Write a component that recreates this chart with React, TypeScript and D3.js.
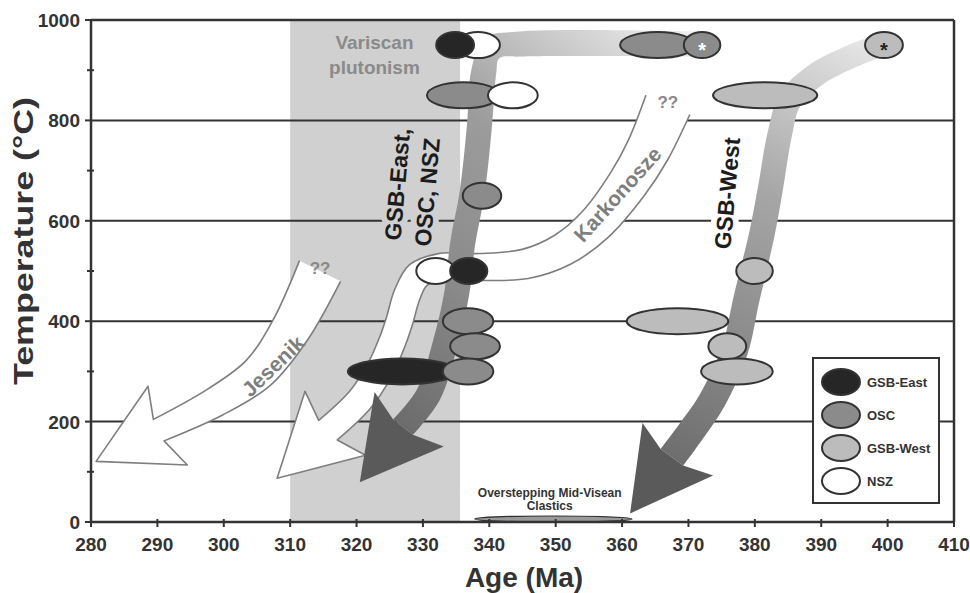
import React from 'react';
import * as d3 from 'd3';

type Pt = [number, number];

// ---- data: age in Ma, temperature in °C ----
const ageTicks = d3.range(280, 411, 10);
const tempTicks = [0, 200, 400, 600, 800, 1000];
const tempMinorTicks = [100, 300, 500, 700, 900];
const gridTemps = [200, 400, 600, 800];
const plutonismAges: Pt = [310, 335.6];
const clasticsAges: Pt = [337.8, 361.5];

const groups = ['GSB-East', 'OSC', 'GSB-West', 'NSZ'];
const groupColors = ['#262626', '#8b8b8b', '#bcbcbc', '#ffffff'];

// group, min age, max age, temperature, asterisk  (listed in drawing order)
const samples: [string, number, number, number, boolean][] = [
  ['NSZ', 335.0, 341.6, 950, false],
  ['NSZ', 329.0, 334.8, 500, false],
  ['GSB-East', 332.0, 337.7, 950, false],
  ['GSB-East', 334.1, 339.7, 500, false],
  ['GSB-East', 318.7, 335.1, 300, false],
  ['OSC', 359.7, 371.0, 950, false],
  ['OSC', 369.3, 374.8, 950, true],
  ['OSC', 330.6, 341.6, 850, false],
  ['OSC', 336.0, 341.8, 650, false],
  ['OSC', 333.0, 340.6, 400, false],
  ['OSC', 334.1, 341.6, 350, false],
  ['OSC', 333.0, 340.6, 300, false],
  ['GSB-West', 396.6, 402.3, 950, true],
  ['GSB-West', 373.7, 389.4, 850, false],
  ['GSB-West', 377.2, 382.7, 500, false],
  ['GSB-West', 360.7, 376.0, 400, false],
  ['GSB-West', 373.0, 378.7, 350, false],
  ['GSB-West', 371.9, 382.7, 300, false],
  ['NSZ', 339.8, 347.3, 850, false],
];

// P-T-t paths (age, temperature)
const pathEast: Pt[] = [
  [371.7, 952], [344.6, 952], [340.4, 944], [339.2, 900], [338.5, 787], [337.4, 655],
  [336.0, 556], [335.1, 456], [333.3, 353], [330.8, 253], [327.0, 189],
];
const pathWest: Pt[] = [
  [399.5, 952], [394.3, 926], [389.1, 890], [385.3, 841], [383.8, 775], [382.3, 661],
  [381.1, 576], [378.7, 442], [377.0, 343], [373.6, 243], [370.2, 177], [367.5, 129],
];
const pathKarkonosze: Pt[] = [
  [366.9, 831], [363.9, 741], [360.9, 675], [355.9, 592], [351.0, 542], [345.4, 514],
  [338.6, 508], [332.6, 508], [329.3, 492], [327.6, 452], [326.5, 402], [325.5, 363],
  [323.5, 303], [320.5, 243], [315.7, 183],
];
const pathJesenik: Pt[] = [
  [314.5, 500], [310.0, 382], [305.2, 297], [298.7, 239], [290.2, 183],
];

const FONT = '"Liberation Sans", Arial, Helvetica, sans-serif';
const AXIS = '#333';

function buildArrow(pts: Pt[], w0: number, w1: number, taper: number) {
  const head = { len: 70, half: 44, back: 10 };
  const n = pts.length;
  const cum = [0];
  for (let i = 1; i < n; i++) cum.push(cum[i - 1] + Math.hypot(pts[i][0] - pts[i - 1][0], pts[i][1] - pts[i - 1][1]));
  const total = cum[n - 1];
  const left: Pt[] = [], right: Pt[] = [];
  pts.forEach((p, i) => {
    const a = pts[Math.max(0, i - 1)], b = pts[Math.min(n - 1, i + 1)];
    const dx = b[0] - a[0], dy = b[1] - a[1], l = Math.hypot(dx, dy);
    const nx = -dy / l, ny = dx / l;
    const f = Math.min(1, cum[i] / total / taper);
    const w = (w0 + (w1 - w0) * f) / 2;
    left.push([p[0] + nx * w, p[1] + ny * w]);
    right.push([p[0] - nx * w, p[1] - ny * w]);
  });
  const e = pts[n - 1], q = pts[n - 2];
  const dl = Math.hypot(e[0] - q[0], e[1] - q[1]);
  const dx = (e[0] - q[0]) / dl, dy = (e[1] - q[1]) / dl;
  const nx = -dy, ny = dx;
  const tip: Pt = [e[0] + dx * head.len, e[1] + dy * head.len];
  const wingL: Pt = [e[0] - dx * head.back + nx * head.half, e[1] - dy * head.back + ny * head.half];
  const wingR: Pt = [e[0] - dx * head.back - nx * head.half, e[1] - dy * head.back - ny * head.half];
  const edge = d3.line().curve(d3.curveCatmullRom.alpha(0.5));
  const leftD = edge(left) as string;
  const rightD = (edge([...right].reverse()) as string).replace(/^M/, 'L');
  return {
    outline: leftD + `L${wingL}L${tip}L${wingR}L${right[n - 1]}` + rightD,
    shaft: leftD + `L${right[n - 1]}` + rightD + 'Z',
    head: `M${left[n - 1]}L${wingL}L${tip}L${wingR}L${right[n - 1]}Z`,
  };
}

export default function App() {
  const x = d3.scaleLinear().domain([280, 410]).range([91, 954]);
  const y = d3.scaleLinear().domain([0, 1000]).range([522, 20]);
  const px = (p: Pt): Pt => [x(p[0]), y(p[1])];

  const east = buildArrow(pathEast.map(px), 25, 25, 1);
  const west = buildArrow(pathWest.map(px), 23, 28, 1);
  const kark = buildArrow(pathKarkonosze.map(px), 48, 27, 0.5);
  const jes = buildArrow(pathJesenik.map(px), 46, 24, 1);

  const e0 = px(pathEast[0]), e1 = px(pathEast[pathEast.length - 1]);
  const w0 = px(pathWest[0]), w1 = px(pathWest[pathWest.length - 1]);

  const ry = 13;
  const streamLabels = [
    { text: 'GSB-East,', age: 326.1, temp: 673 },
    { text: 'OSC, NSZ', age: 330.6, temp: 657 },
    { text: 'GSB-West', age: 375.8, temp: 655 },
  ];
  const streamText = (fill: string, stroke?: string) =>
    streamLabels.map((l, i) => (
      <text key={i} transform={`translate(${x(l.age)},${y(l.temp)}) rotate(-85)`} textAnchor="middle" dy="0.36em"
        fontFamily={FONT} fontWeight="bold" fontSize={23} fill={fill}
        stroke={stroke} strokeWidth={stroke ? 12 : 0} strokeLinejoin="round">{l.text}</text>
    ));

  const grey = '#7e7e7e';
  const colorOf = (g: string) => groupColors[groups.indexOf(g)];

  return (
    <svg width={970} height={593} style={{ position: 'absolute', left: 0, top: 0, background: '#fff' }}>
      <defs>
        <linearGradient id="gEast" gradientUnits="userSpaceOnUse" x1={e0[0]} y1={e0[1]} x2={e1[0]} y2={e1[1]}>
          <stop offset="0" stopColor="#ededed" />
          <stop offset="0.22" stopColor="#c2c2c2" />
          <stop offset="0.4" stopColor="#9c9c9c" />
          <stop offset="0.7" stopColor="#8a8a8a" />
          <stop offset="1" stopColor="#6c6c6c" />
        </linearGradient>
        <linearGradient id="gWest" gradientUnits="userSpaceOnUse" x1={w0[0]} y1={w0[1]} x2={w1[0]} y2={w1[1]}>
          <stop offset="0" stopColor="#e8e8e8" />
          <stop offset="0.2" stopColor="#c6c6c6" />
          <stop offset="0.4" stopColor="#a6a6a6" />
          <stop offset="0.7" stopColor="#8c8c8c" />
          <stop offset="1" stopColor="#6e6e6e" />
        </linearGradient>
        <mask id="gridMask" maskUnits="userSpaceOnUse" x={0} y={0} width={970} height={593}>
          <rect width={970} height={593} fill="#fff" />
          {streamText('#000', '#000')}
        </mask>
      </defs>

      {/* Variscan plutonism */}
      <rect x={x(plutonismAges[0])} y={y(1000)} width={x(plutonismAges[1]) - x(plutonismAges[0])}
        height={y(0) - y(1000)} fill="#d0d0d0" />

      <g mask="url(#gridMask)">
        {gridTemps.map(t => (
          <line key={t} x1={x(280)} x2={x(410)} y1={y(t)} y2={y(t)} stroke={AXIS} strokeWidth={2} />
        ))}
      </g>

      <g fontFamily={FONT} fontWeight="bold" fontSize={19} fill="#8a8a8a" textAnchor="middle">
        <text x={x(322.7)} y={y(1000) + 29}>Variscan</text>
        <text x={x(322.7)} y={y(1000) + 54}>plutonism</text>
      </g>

      {/* white paths */}
      <path d={jes.outline} fill="#fff" stroke={grey} strokeWidth={1.6} strokeLinejoin="round" />
      <path d={kark.outline} fill="#fff" stroke={grey} strokeWidth={1.6} strokeLinejoin="round" />

      {/* overstepping clastics */}
      <ellipse cx={(x(clasticsAges[0]) + x(clasticsAges[1])) / 2} cy={y(0) - 3}
        rx={(x(clasticsAges[1]) - x(clasticsAges[0])) / 2} ry={3} fill="#9a9a9a" stroke={AXIS} strokeWidth={1.2} />
      <g fontFamily={FONT} fontWeight="bold" fontSize={12} fill="#333" textAnchor="middle">
        <text x={x(349.1)} y={y(0) - 25}>Overstepping Mid-Visean</text>
        <text x={x(349.1)} y={y(0) - 12}>Clastics</text>
      </g>

      {/* gradient paths */}
      <path d={west.shaft} fill="url(#gWest)" />
      <path d={west.head} fill="#5a5a5a" />
      <path d={east.shaft} fill="url(#gEast)" />
      <path d={east.head} fill="#5a5a5a" />

      {streamText('#1c1c1c')}

      <g fontFamily={FONT} fontWeight="bold" fill={grey} textAnchor="middle">
        <text transform={`translate(${x(359.3)},${y(653)}) rotate(-48)`} dy="0.36em" fontSize={21}>Karkonosze</text>
        <text transform={`translate(${x(307.4)},${y(311)}) rotate(-44)`} dy="0.36em" fontSize={21}>Jesenik</text>
        <text x={x(366.9)} y={y(837)} dy="0.36em" fontSize={17} fill="#888">??</text>
        <text x={x(314.5)} y={y(506)} dy="0.36em" fontSize={17} fill="#888">??</text>
      </g>

      {/* samples */}
      {samples.map(([g, a0, a1, t, star], i) => {
        const cx = (x(a0) + x(a1)) / 2;
        return (
          <g key={i}>
            <ellipse cx={cx} cy={y(t)} rx={(x(a1) - x(a0)) / 2} ry={ry} fill={colorOf(g)} stroke={AXIS} strokeWidth={2} />
            {star && (
              <text x={cx} y={y(t) + 12} textAnchor="middle" fontFamily={FONT} fontWeight="bold" fontSize={20}
                fill={g === 'OSC' ? '#fff' : '#222'}>*</text>
            )}
          </g>
        );
      })}

      {/* axes */}
      <g stroke={AXIS} strokeWidth={2.5} fill="none">
        <line x1={x(280)} x2={x(410)} y1={y(1000)} y2={y(1000)} />
        <line x1={x(410)} x2={x(410)} y1={y(1000)} y2={y(0)} />
        <line x1={x(280)} x2={x(410)} y1={y(0)} y2={y(0)} />
        <line x1={x(280)} x2={x(280)} y1={y(1000)} y2={y(0)} />
      </g>
      <g stroke={AXIS} strokeWidth={2}>
        {ageTicks.map(a => <line key={a} x1={x(a)} x2={x(a)} y1={y(0) - 3} y2={y(0) + 5} />)}
        {tempTicks.map(t => <line key={t} x1={x(280) - 6} x2={x(280)} y1={y(t)} y2={y(t)} />)}
        {tempMinorTicks.map(t => <line key={t} x1={x(280) - 4} x2={x(280) + 3} y1={y(t)} y2={y(t)} />)}
      </g>
      <g fontFamily={FONT} fontWeight="bold" fontSize={19} fill={AXIS}>
        {ageTicks.map(a => <text key={a} x={x(a)} y={y(0) + 29} textAnchor="middle">{a}</text>)}
        {tempTicks.map(t => <text key={t} x={x(280) - 11} y={y(t) + 7} textAnchor="end">{t}</text>)}
      </g>
      <text x={524} y={587} textAnchor="middle" fontFamily={FONT} fontWeight="bold" fontSize={28} fill={AXIS}>Age (Ma)</text>
      <text transform={`translate(33,241) rotate(-90)`} textAnchor="middle" fontFamily={FONT} fontWeight="bold"
        fontSize={28} fill={AXIS} textLength={288} lengthAdjust="spacingAndGlyphs">Temperature (°C)</text>

      {/* legend */}
      <rect x={813} y={358} width={126} height={145} fill="#fff" stroke={AXIS} strokeWidth={2} />
      {groups.map((g, i) => (
        <g key={g}>
          <ellipse cx={841} cy={382 + i * 33} rx={19} ry={13} fill={groupColors[i]} stroke={AXIS} strokeWidth={2} />
          <text x={867} y={382 + i * 33} dy="0.36em" fontFamily={FONT} fontWeight="bold" fontSize={13} fill={AXIS}>{g}</text>
        </g>
      ))}
    </svg>
  );
}
